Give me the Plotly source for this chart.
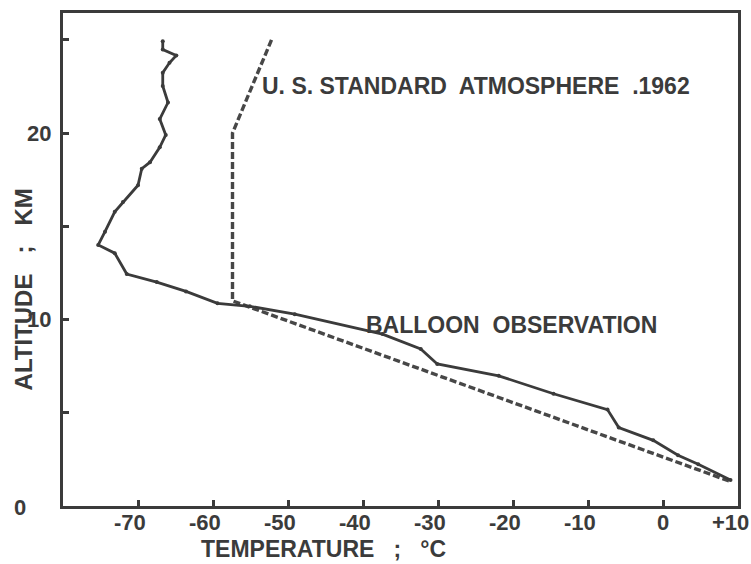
import plotly.graph_objects as go

# Balloon observation (temperature °C, altitude km)
balloon_temp = [-66.7, -66.7, -64.9, -65.8, -66.7, -66.7, -66.0, -67.1, -66.3, -67.1,
                -68.4, -69.5, -70.0, -72.0, -73.1, -74.4, -75.3, -73.1, -71.5, -67.5,
                -63.6, -59.4, -55.1, -49.1, -37.4, -32.3, -30.1, -21.9, -14.6, -7.4,
                -5.9, -1.3, 2.0, 4.7, 9.0]
balloon_alt = [24.93, 24.48, 24.16, 23.77, 23.24, 22.53, 21.64, 20.75, 19.90, 19.24,
               18.44, 18.09, 17.20, 16.31, 15.78, 14.71, 14.00, 13.56, 12.44, 12.01,
               11.51, 10.87, 10.71, 10.29, 9.22, 8.42, 7.62, 6.98, 6.02, 5.17,
               4.21, 3.52, 2.72, 2.24, 1.39]

# U.S. Standard Atmosphere 1962
std_temp = [-52.2, -57.4, -57.4, 9.1]
std_alt = [25.0, 20.0, 11.0, 1.3]

x_ticks = [-70, -60, -50, -40, -30, -20, -10, 0, 10]
x_ticklabels = ["-70", "-60", "-50", "-40", "-30", "-20", "-10", "0", "+10"]
y_ticks = [5, 10, 15, 20, 25]
y_ticklabels = ["10", "20"]
y_labelvals = [10, 20]

INK = "#3b3b3b"
FONT = "Liberation Sans, Arial, sans-serif"

def f(size):
    return dict(family=FONT, size=size, color=INK, weight="bold")

fig = go.Figure()
fig.add_trace(go.Scatter(
    x=std_temp, y=std_alt, mode="lines",
    line=dict(color="#474747", width=3.4, dash="7px,3px"),
    showlegend=False, hoverinfo="skip"))
fig.add_trace(go.Scatter(
    x=balloon_temp, y=balloon_alt, mode="lines+markers",
    line=dict(color=INK, width=2.8),
    marker=dict(color=INK, size=4),
    showlegend=False, hoverinfo="skip"))

L, R, T, B = 63, 11, 10, 58
W, H = 751, 564
pw, ph = W - L - R, H - T - B

def px(x):
    return (x - L) / pw

def py(y):
    return (H - B - y) / ph

ann = []
# x tick labels
for v, t in zip(x_ticks, x_ticklabels):
    ann.append(dict(x=v, xref="x", y=py(523), yref="paper", text=t, showarrow=False,
                    xanchor="center", yanchor="middle", xshift=(0 if t == "0" else -8),
                    font=f(22)))
# y tick labels
for v, t in zip(y_labelvals, y_ticklabels):
    ann.append(dict(x=px(53), xref="paper", y=v, yref="y", text=t, showarrow=False,
                    xanchor="right", yanchor="middle", font=f(22)))
ann.append(dict(x=px(20), xref="paper", y=py(508), yref="paper", text="0", showarrow=False,
                xanchor="center", yanchor="middle", font=f(22)))
# axis titles
ann.append(dict(x=px(324), xref="paper", y=py(549), yref="paper",
                text="TEMPERATURE   ;   °C", showarrow=False,
                xanchor="center", yanchor="middle", font=f(23)))
ann.append(dict(x=px(23), xref="paper", y=py(288), yref="paper",
                text="ALTITUDE   ;   KM", showarrow=False, textangle=-90,
                xanchor="center", yanchor="middle", font=f(24)))
# curve labels
ann.append(dict(x=px(261), xref="paper", y=py(83), yref="paper",
                text="U. S. STANDARD  ATMOSPHERE  .1962", showarrow=False,
                xanchor="left", yanchor="middle", font=f(23)))
ann.append(dict(x=px(365), xref="paper", y=py(324), yref="paper",
                text="BALLOON  OBSERVATION", showarrow=False,
                xanchor="left", yanchor="middle", font=f(23)))

fig.update_layout(
    width=W, height=H,
    margin=dict(l=L, r=R, t=T, b=B, pad=0),
    paper_bgcolor="white", plot_bgcolor="white",
    font=dict(family=FONT, color=INK),
    annotations=ann,
    xaxis=dict(range=[-80, 10], tickvals=x_ticks, showticklabels=False,
               ticks="inside", ticklen=6, tickwidth=3, tickcolor=INK,
               showline=True, linewidth=3, linecolor=INK, mirror=True,
               showgrid=False, zeroline=False, fixedrange=True),
    yaxis=dict(range=[0, 26.44], tickvals=y_ticks, showticklabels=False,
               ticks="inside", ticklen=6, tickwidth=3, tickcolor=INK,
               showline=True, linewidth=3, linecolor=INK, mirror=True,
               showgrid=False, zeroline=False, fixedrange=True),
)

fig.write_html("out.html")
